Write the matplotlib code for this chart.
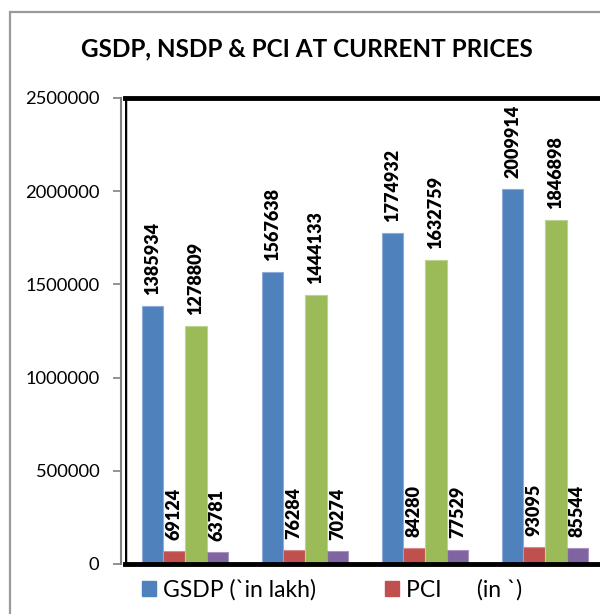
import matplotlib
matplotlib.use('Agg')
import matplotlib.pyplot as plt
import matplotlib.patches as mpatches
import numpy as np

plt.rcParams['font.family'] = ['Lato', 'DejaVu Sans']

# Data (four years, x labels are cut off in the reference)
groups = ['Y1', 'Y2', 'Y3', 'Y4']
gsdp = [1385934, 1567638, 1774932, 2009914]
pci_gsdp = [69124, 76284, 84280, 93095]
nsdp = [1278809, 1444133, 1632759, 1846898]
pci_nsdp = [63781, 70274, 77529, 85544]
yticks = [0, 500000, 1000000, 1500000, 2000000, 2500000]

series = [gsdp, pci_gsdp, nsdp, pci_nsdp]
colors = ['#4F81BD', '#C0504D', '#9BBB59', '#8064A2']
edges = ['#8FAAD6', '#D98A88', '#BCD48F', '#A794C2']

fig = plt.figure(figsize=(6.0, 6.14), dpi=100)

# outer chart-area border (cropped on right and bottom)
fig.patches.append(mpatches.Rectangle((10 / 600, -0.1), 1.2, 0.1 + 1 - 12 / 614,
                                      transform=fig.transFigure, fill=False,
                                      edgecolor='#9a9a9a', linewidth=1.6))

ax = fig.add_axes([125 / 600, 50 / 614, 480 / 600, 466 / 614])

x = np.arange(len(groups))
w = 0.18
for i, vals in enumerate(series):
    bars = ax.bar(x + (i - 1.5) * w, vals, width=w, color=colors[i],
                  edgecolor=edges[i], linewidth=0.8, zorder=2)
    for b, v in zip(bars, vals):
        ax.annotate(str(v), (b.get_x() + b.get_width() / 2, b.get_height()),
                    xytext=(0, 8), textcoords='offset points', rotation=90,
                    ha='center', va='bottom', fontsize=13, fontweight='heavy',
                    zorder=3)

ax.set_xlim(-0.5, len(groups) - 0.5)
ax.set_ylim(0, 2500000)
ax.set_yticks(yticks)
ax.set_yticklabels([str(t) for t in yticks])
ax.set_xticks([])
ax.tick_params(axis='y', direction='out', length=6, width=1.2, color='#808080',
               pad=9.5, labelsize=13.2)

for s in ['top', 'bottom']:
    ax.spines[s].set_color('black')
    ax.spines[s].set_linewidth(3.5)
ax.spines['right'].set_visible(False)
ax.spines['left'].set_color('#808080')
ax.spines['left'].set_linewidth(1.5)
ax.spines['left'].set_position(('outward', 3))
ax.axvline(-0.5, color='black', linewidth=2.5, zorder=4)

fig.text(0.512, 0.92, 'GSDP, NSDP & PCI AT CURRENT PRICES', ha='center', va='center',
         fontsize=17.5, fontweight='bold')

handles = [mpatches.Patch(color=colors[0]), mpatches.Patch(color=colors[1])]
fig.legend(handles, ['GSDP (`in lakh)', 'PCI      (in `)'], ncol=2, frameon=False,
           loc='center left', bbox_to_anchor=(142 / 600, 1 - 590 / 614), fontsize=16.5,
           handlelength=0.62, handleheight=0.62, handletextpad=0.3, columnspacing=3.0,
           borderpad=0, borderaxespad=0)

fig.savefig('out.png', dpi=100)
